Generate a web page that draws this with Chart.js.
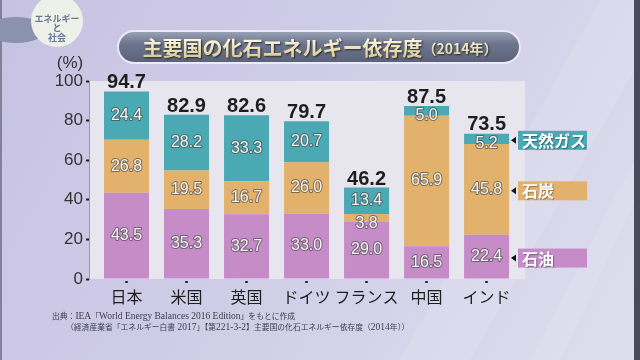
<!DOCTYPE html>
<html><head><meta charset="utf-8">
<script src="https://cdn.jsdelivr.net/npm/chart.js@4/dist/chart.umd.min.js"></script>
<style>html,body{margin:0;padding:0;background:#d0cde8;}canvas{display:block}</style>
</head><body>
<canvas id="c" width="640" height="360"></canvas>
<script>
const categories  = ['日本','米国','英国','ドイツ','フランス','中国','インド'];
const oilValues   = [43.5,35.3,32.7,33.0,29.0,16.5,22.4];
const coalValues  = [26.8,19.5,16.7,26.0,3.8,65.9,45.8];
const gasValues   = [24.4,28.2,33.3,20.7,13.4,5.0,5.2];
const totalValues = [94.7,82.9,82.6,79.7,46.2,87.5,73.5];
const yTickValues = [0,20,40,60,80,100];
const seriesNames = ['石油','石炭','天然ガス'];
const seriesColors = ['#c68cc8','#e2b26c','#4aa9b3'];
const titleMain = '主要国の化石エネルギー依存度';
const titleSub = '（2014年）';
const unitLabel = '(%)';
const sourceLines = [
  '出典：IEA「World Energy Balances 2016 Edition」をもとに作成',
  '（経済産業省「エネルギー白書 2017」【第221-3-2】主要国の化石エネルギー依存度（2014年））'
];
const logoLines = ['エネルギー','と','社会'];

const JP = '"Noto Sans CJK JP", sans-serif';
const LAT = '"Liberation Sans", "Noto Sans CJK JP", sans-serif';

function toPoints(arr){ return arr.map((v,i)=>({x:i,y:v})); }

function roundRect(ctx,x,y,w,h,r){
  ctx.beginPath();
  ctx.moveTo(x+r,y); ctx.lineTo(x+w-r,y); ctx.arc(x+w-r,y+r,r,-Math.PI/2,0);
  ctx.lineTo(x+w,y+h-r); ctx.arc(x+w-r,y+h-r,r,0,Math.PI/2);
  ctx.lineTo(x+r,y+h); ctx.arc(x+r,y+h-r,r,Math.PI/2,Math.PI);
  ctx.lineTo(x,y+r); ctx.arc(x+r,y+r,r,Math.PI,Math.PI*1.5);
  ctx.closePath();
}

function drawMixed(ctx, text, x, y){
  const parts = text.split(/([\x20-\x7E]+)/).filter(p=>p.length);
  let cx = x;
  parts.forEach(p=>{
    ctx.font = /^[\x20-\x7E]+$/.test(p) ? '9.5px "Liberation Serif", serif' : '7.8px "Noto Sans CJK JP", sans-serif';
    ctx.fillText(p, cx, y);
    cx += ctx.measureText(p).width;
  });
}

const decor = {
  id:'decor',
  beforeDraw(chart){
    const ctx = chart.ctx, W = chart.width, H = chart.height, ca = chart.chartArea;
    ctx.save();
    let g = ctx.createLinearGradient(0,0,W,H);
    g.addColorStop(0,'#c7c2e2'); g.addColorStop(0.5,'#d1cee8'); g.addColorStop(1,'#dedeed');
    ctx.fillStyle = g; ctx.fillRect(0,0,W,H);
    ctx.fillStyle = 'rgba(255,255,255,0.10)';
    ctx.beginPath(); ctx.moveTo(600,0); ctx.lineTo(640,0); ctx.lineTo(640,60); ctx.lineTo(470,360); ctx.lineTo(400,360); ctx.closePath(); ctx.fill();
    ctx.beginPath(); ctx.moveTo(640,150); ctx.lineTo(640,190); ctx.lineTo(560,360); ctx.lineTo(530,360); ctx.closePath(); ctx.fill();
    ctx.fillStyle = '#4a4a5c'; ctx.fillRect(634,0,6,H);
    ctx.fillStyle = 'rgba(60,60,80,0.5)'; ctx.fillRect(0,0,2,H);
    // logo
    ctx.fillStyle = '#8a93ab';
    ctx.beginPath(); ctx.ellipse(16,30,30,13,0,0,Math.PI*2); ctx.fill();
    ctx.fillStyle = '#eef0ea';
    ctx.beginPath(); ctx.arc(57,21,26,0,Math.PI*2); ctx.fill();
    ctx.fillStyle = '#6c7890'; ctx.textAlign='center'; ctx.textBaseline='middle';
    ctx.font = 'bold 9px '+JP;
    ctx.fillText(logoLines[0],57,19);
    ctx.fillText(logoLines[1],57,28);
    ctx.fillText(logoLines[2],57,38);
    // title pill
    ctx.fillStyle = '#eceaf6';
    roundRect(ctx,117,30,404,34,17); ctx.fill();
    g = ctx.createLinearGradient(0,32,0,62);
    g.addColorStop(0,'#98a0b4'); g.addColorStop(0.4,'#6c758d'); g.addColorStop(1,'#5a6379');
    ctx.fillStyle = g;
    roundRect(ctx,119,32,400,30,15); ctx.fill();
    ctx.font = 'bold 20px '+JP;
    const w1 = ctx.measureText(titleMain).width;
    ctx.font = 'bold 14px '+JP;
    const w2 = ctx.measureText(titleSub).width;
    const tx = 320 - (w1+w2)/2;
    ctx.textAlign='left';
    ctx.shadowColor='rgba(20,20,30,0.8)'; ctx.shadowBlur=2; ctx.shadowOffsetX=1; ctx.shadowOffsetY=1;
    g = ctx.createLinearGradient(0,38,0,58);
    g.addColorStop(0,'#fffbe6'); g.addColorStop(1,'#d9c88e');
    ctx.fillStyle = g;
    ctx.font = 'bold 20px '+JP; ctx.fillText(titleMain,tx,48);
    ctx.font = 'bold 14px '+JP; ctx.fillText(titleSub,tx+w1,49);
    ctx.shadowColor='transparent';
    // plot background
    ctx.fillStyle = '#e7e6ef';
    ctx.fillRect(ca.left,ca.top,ca.right-ca.left,ca.bottom-ca.top);
    ctx.restore();
  },
  afterDraw(chart){
    const ctx = chart.ctx;
    const ys = chart.scales.y, xs = chart.scales.x;
    ctx.save();
    ctx.fillStyle='#333'; ctx.font='17px '+LAT; ctx.textAlign='center'; ctx.textBaseline='middle';
    ctx.fillText(unitLabel,70,63);
    // segment labels
    ctx.font='16px '+LAT; ctx.lineJoin='round';
    chart.data.datasets.forEach((ds,di)=>{
      const meta = chart.getDatasetMeta(di);
      meta.data.forEach((el,i)=>{
        const h = el.base - el.y;
        const cy = h < 16 ? el.y + 10 : (el.y + el.base)/2;
        const t = ds.data[i].y.toFixed(1);
        ctx.lineWidth = 2; ctx.strokeStyle='rgba(70,70,70,0.65)';
        ctx.strokeText(t, el.x, cy);
        ctx.fillStyle='#f4f4f4';
        ctx.fillText(t, el.x, cy);
      });
    });
    // totals
    ctx.font='bold 20px '+LAT; ctx.fillStyle='#1e1e1e'; ctx.textBaseline='alphabetic';
    totalValues.forEach((v,i)=>{
      ctx.fillText(v.toFixed(1), xs.getPixelForValue(i), ys.getPixelForValue(v)-3);
    });
    // legend labels beside last bar
    const last = categories.length-1;
    chart.data.datasets.forEach((ds,di)=>{
      const el = chart.getDatasetMeta(di).data[last];
      const cy = (el.y + el.base)/2 + 1.5;
      ctx.fillStyle = ds.backgroundColor;
      ctx.fillRect(518, cy-9.5, 69, 19);
      ctx.fillStyle = '#111';
      ctx.beginPath(); ctx.moveTo(511,cy); ctx.lineTo(516,cy-3.5); ctx.lineTo(516,cy+3.5); ctx.closePath(); ctx.fill();
      ctx.font='bold 16px '+JP; ctx.textAlign='left'; ctx.textBaseline='middle';
      ctx.shadowColor='rgba(0,0,0,0.35)'; ctx.shadowOffsetX=1; ctx.shadowOffsetY=1; ctx.shadowBlur=1;
      ctx.fillStyle='#ffffff';
      ctx.fillText(ds.label, 522, cy+0.5);
      ctx.shadowColor='transparent';
    });
    // source
    ctx.fillStyle='#3c3c4c'; ctx.textAlign='left'; ctx.textBaseline='middle';
    drawMixed(ctx, sourceLines[0], 52, 316);
    drawMixed(ctx, sourceLines[1], 66, 327);
    ctx.restore();
  }
};

new Chart(document.getElementById('c'), {
  type:'bar',
  data:{
    datasets:[
      {label:seriesNames[0], data:toPoints(oilValues),  backgroundColor:seriesColors[0]},
      {label:seriesNames[1], data:toPoints(coalValues), backgroundColor:seriesColors[1]},
      {label:seriesNames[2], data:toPoints(gasValues),  backgroundColor:seriesColors[2]}
    ]
  },
  options:{
    responsive:false, animation:false, devicePixelRatio:1,
    layout:{padding:{left:0,right:115,top:81,bottom:51}},
    datasets:{bar:{categoryPercentage:1, barPercentage:0.75, borderWidth:0}},
    plugins:{legend:{display:false}, tooltip:{enabled:false}, title:{display:false}},
    scales:{
      x:{
        type:'linear', stacked:true, offset:false, min:-0.625, max:6.64,
        afterBuildTicks:(s)=>{ s.ticks = categories.map((_,i)=>({value:i})); },
        afterFit:(s)=>{ s.height = 30; },
        grid:{display:true, offset:false, drawOnChartArea:false, tickLength:4, tickColor:'#222', tickWidth:2.5, tickBorderDash:[2,2], tickBorderDashOffset:2},
        border:{display:false},
        ticks:{autoSkip:false, maxRotation:0, padding:4, color:'#1e1e1e', font:{family:'"Noto Sans CJK JP"', size:16},
          callback:(v)=>categories[v]}
      },
      y:{
        stacked:true, min:0, max:100,
        afterBuildTicks:(s)=>{ s.ticks = yTickValues.map(v=>({value:v})); },
        afterFit:(s)=>{ s.width = 89; },
        grid:{display:true, drawOnChartArea:false, tickLength:3, tickColor:'#222', tickWidth:2},
        border:{display:true, color:'#9a9aa6', width:1},
        ticks:{padding:3, color:'#333', font:{family:'"Liberation Sans"', size:17}}
      }
    }
  },
  plugins:[decor]
});
</script>
</body></html>
